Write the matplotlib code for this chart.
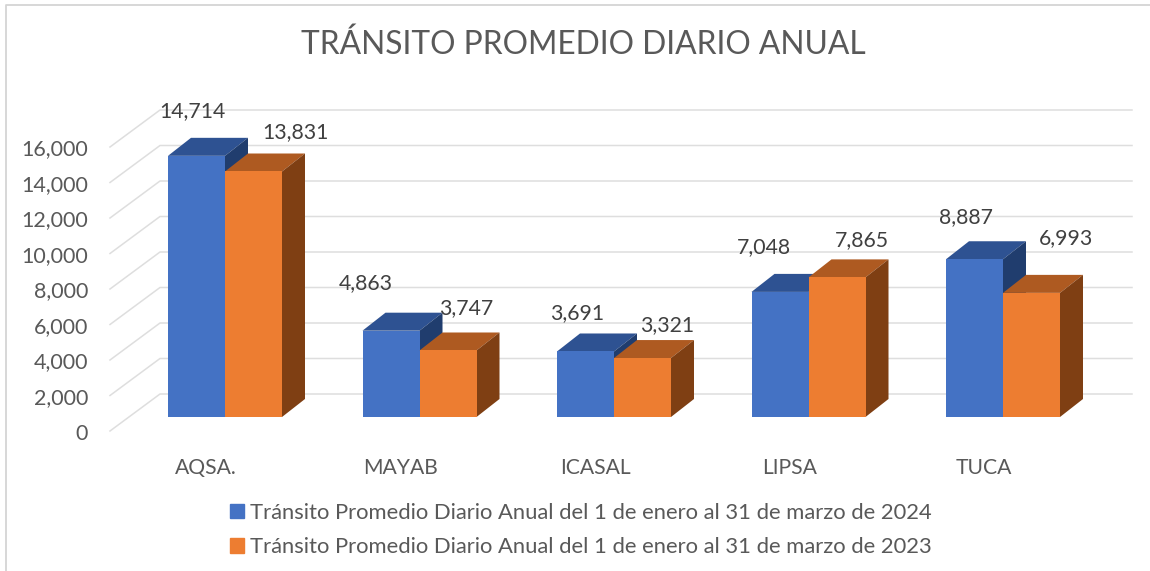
import matplotlib
matplotlib.use('Agg')
import matplotlib.pyplot as plt
from matplotlib.patches import Polygon, Patch

plt.rcParams['font.family'] = ['Lato', 'DejaVu Sans']

# datos
empresas = ['AQSA.', 'MAYAB', 'ICASAL', 'LIPSA', 'TUCA']
tpda_2024 = [14714, 4863, 3691, 7048, 8887]
tpda_2023 = [13831, 3747, 3321, 7865, 6993]
ticks_y = [0, 2000, 4000, 6000, 8000, 10000, 12000, 14000, 16000]
titulo = 'TRÁNSITO PROMEDIO DIARIO ANUAL'
nombre_2024 = 'Tránsito Promedio Diario Anual del 1 de enero al 31 de marzo de 2024'
nombre_2023 = 'Tránsito Promedio Diario Anual del 1 de enero al 31 de marzo de 2023'

# escala: pixeles por categoria y por unidad de valor
W, H = 1150, 571
PX_X = 194.5
PX_Y = 0.01775
X0 = 225    # pixel de la primera categoria
Y0 = 417    # pixel de la base de las barras

def dx(px):
    return px / PX_X

def dy(px):
    return px / PX_Y

ancho = dx(57)
prof_x, prof_y = dx(23), dy(18)

# desplazamiento de cada etiqueta respecto a la barra (en pixeles)
offs_2024 = [(-4, 45), (-25, 48), (-8, 38), (-16, 45), (-9, 42)]
offs_2023 = [(42, 39), (18, 42), (25, 33), (25, 37), (35, 55)]

fig = plt.figure(figsize=(W / 100, H / 100), dpi=100)
ax = fig.add_axes([0, 0, 1, 1])
ax.set_xlim(-X0 / PX_X, (W - X0) / PX_X)
ax.set_ylim(-(H - Y0) / PX_Y, Y0 / PX_Y)
ax.axis('off')

# marco del grafico
ax.plot([6 / W, 6 / W, 1], [0, 1 - 5 / H, 1 - 5 / H], transform=ax.transAxes, color='#d4d4d4', lw=1.3)

# rejilla: pared del fondo y diagonal hacia el frente
x_frente, x_fondo, x_fin = dx(110 - X0), dx(160 - X0), dx(1132 - X0)
y_frente, y_fondo = dy(-14), dy(23)
for t in ticks_y:
    ax.plot([x_frente, x_fondo, x_fin], [t + y_frente, t + y_fondo, t + y_fondo], color='#dedede', lw=1.1, zorder=1)
    ax.text(dx(88 - X0), t + y_frente + dy(-2.5), f'{t:,}', ha='right', va='center', fontsize=15.5, color='#595959')


def barra(x, v, frente, arriba, lado):
    ax.add_patch(Polygon([(x, v), (x + prof_x, v + prof_y), (x + ancho + prof_x, v + prof_y), (x + ancho, v)], color=arriba, lw=0, zorder=2))
    ax.add_patch(Polygon([(x + ancho, 0), (x + ancho + prof_x, prof_y), (x + ancho + prof_x, v + prof_y), (x + ancho, v)], color=lado, lw=0, zorder=2))
    ax.bar(x, v, width=ancho, align='edge', color=frente, zorder=2)


for i, nombre in enumerate(empresas):
    barra(i - ancho, tpda_2024[i], '#4472c4', '#2e5292', '#203d6e')
    barra(i, tpda_2023[i], '#ed7d31', '#ae5a21', '#7f3f13')
    ax.text(i + dx(-19), dy(Y0 - 468), nombre, ha='center', va='center', fontsize=15.2, color='#595959')
    # etiquetas de valor
    for v, cx, off in [(tpda_2024[i], i - ancho / 2, offs_2024[i]), (tpda_2023[i], i + ancho / 2, offs_2023[i])]:
        ax.text(cx + dx(off[0]), v + dy(off[1]), f'{v:,}', ha='center', va='center', fontsize=15.3, color='#404040', zorder=5)

ax.text(dx(583 - X0), dy(Y0 - 45), titulo, ha='center', va='center', fontsize=22.9, color='#595959')

handles = [Patch(color='#4472c4', label=nombre_2024), Patch(color='#ed7d31', label=nombre_2023)]
ax.legend(handles=handles, loc='upper left', bbox_to_anchor=(210 / W, 1 - 483 / H), frameon=False,
          fontsize=15.8, labelcolor='#595959', handlelength=0.64, handleheight=0.64, handletextpad=0.27, labelspacing=0.65)

fig.savefig('out.png', dpi=100)
